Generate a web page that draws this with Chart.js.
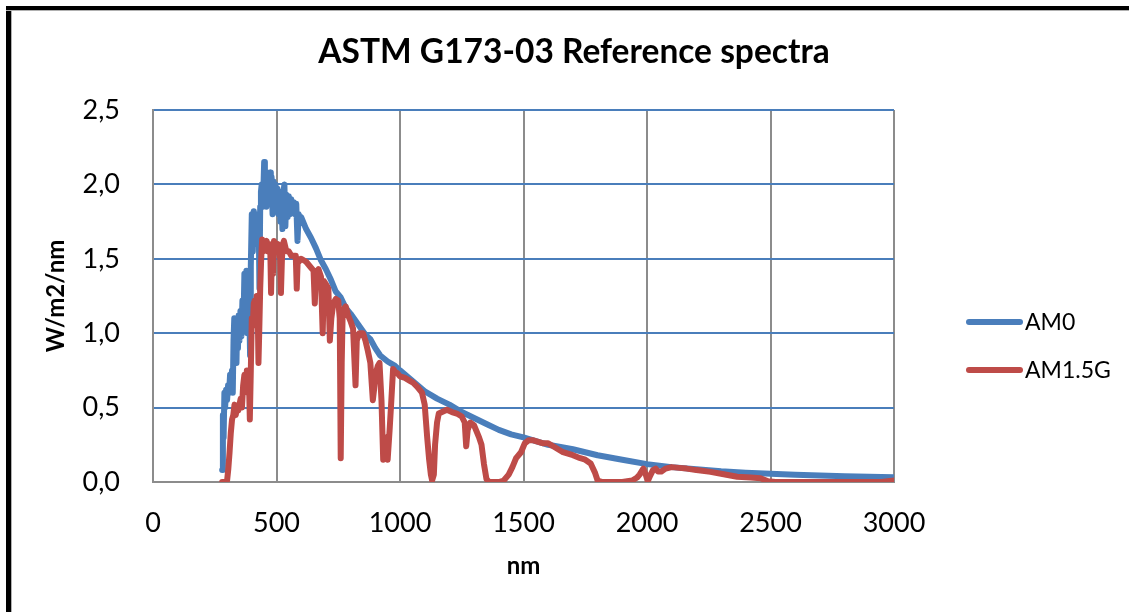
<!DOCTYPE html>
<html>
<head>
<meta charset="utf-8">
<script src="https://cdn.jsdelivr.net/npm/chart.js@4"></script>
<style>
  html, body { margin: 0; padding: 0; background: #fff; }
  #wrap { position: absolute; left: 0; top: 0; width: 1129px; height: 612px; overflow: hidden; background: #fff; }
  #frameL { position: absolute; left: 6px; top: 6px; width: 5px; height: 606px; background: #000; border-right: 1px solid #b0b0b0; }
  #frameT { position: absolute; left: 6px; top: 6px; width: 1123px; height: 4px; background: #000; border-bottom: 1px solid #b0b0b0; }
  canvas { position: absolute; left: 0; top: 0; }
</style>
</head>
<body>
<div id="wrap">
  <canvas id="c" width="1129" height="612"></canvas>
  <div id="frameL"></div>
  <div id="frameT"></div>
</div>
<script>
// ---- Data ----
const chartTitle = 'ASTM G173-03 Reference spectra';
const xAxisTitle = 'nm';
const yAxisTitle = 'W/m2/nm';
const seriesNames = ['AM0', 'AM1.5G'];
const xTickValues = [0, 500, 1000, 1500, 2000, 2500, 3000];
const xTickLabels = ['0', '500', '1000', '1500', '2000', '2500', '3000'];
const yTickValues = [0, 0.5, 1.0, 1.5, 2.0, 2.5];
const yTickLabels = ['0,0', '0,5', '1,0', '1,5', '2,0', '2,5'];

const am0Nm = [
  280, 283, 286, 289, 292, 296, 300, 304, 308, 312, 316, 320, 323, 326, 329, 332, 335, 338, 341, 344,
  347, 350, 354, 358, 362, 366, 370, 374, 378, 382, 386, 390, 393, 396, 400, 404, 408, 412, 416, 420,
  424, 428, 431, 434, 437, 440, 445, 450, 453, 456, 459, 462, 465, 468, 471, 474, 477, 480, 484, 488,
  492, 496, 500, 504, 508, 512, 516, 520, 524, 528, 532, 536, 540, 545, 550, 555, 560, 565, 570, 575,
  580, 585, 590, 596, 600, 620, 640, 660, 680, 700, 720, 740, 760, 780, 800, 830, 860, 880, 900, 920,
  950, 980, 1000, 1050, 1100, 1150, 1200, 1250, 1300, 1350, 1400, 1450, 1500, 1600, 1700, 1800, 1900, 2000, 2100, 2200,
  2300, 2400, 2500, 2600, 2700, 2800, 2900, 3000
];
const am0Val = [
  0.08, 0.45, 0.30, 0.60, 0.50, 0.62, 0.55, 0.65, 0.60, 0.72, 0.68, 0.75, 0.60, 0.95, 1.10, 0.85, 1.05, 0.80, 1.10, 0.90,
  1.12, 0.95, 1.15, 0.98, 1.22, 1.05, 1.40, 1.10, 1.42, 1.00, 1.35, 1.15, 0.85, 1.45, 1.80, 1.55, 1.82, 1.70, 1.80, 1.60,
  1.80, 1.75, 1.30, 1.85, 1.95, 2.00, 1.85, 2.15, 1.90, 2.05, 1.85, 2.08, 1.95, 2.06, 1.92, 2.08, 1.98, 2.05, 1.80, 2.02,
  1.90, 2.00, 1.85, 1.97, 1.80, 1.95, 1.75, 1.93, 1.70, 1.95, 2.00, 1.72, 1.93, 1.78, 1.92, 1.80, 1.90, 1.82, 1.88, 1.80,
  1.87, 1.62, 1.80, 1.76, 1.78, 1.70, 1.64, 1.57, 1.49, 1.43, 1.36, 1.28, 1.24, 1.17, 1.13, 1.06, 0.99, 0.96, 0.90, 0.85,
  0.81, 0.78, 0.75, 0.68, 0.61, 0.56, 0.52, 0.47, 0.43, 0.39, 0.35, 0.32, 0.30, 0.25, 0.22, 0.18, 0.15, 0.12, 0.10, 0.085,
  0.072, 0.063, 0.055, 0.049, 0.043, 0.039, 0.035, 0.032
];

const am15Nm = [
  280, 295, 300, 305, 310, 315, 320, 325, 330, 335, 340, 345, 350, 355, 360, 365, 370, 375, 380, 384,
  388, 392, 396, 400, 404, 408, 412, 416, 420, 424, 427, 430, 434, 438, 442, 446, 450, 455, 460, 465,
  470, 475, 478, 482, 486, 490, 495, 500, 505, 510, 515, 518, 522, 526, 530, 540, 550, 560, 570, 578,
  582, 586, 590, 600, 610, 620, 630, 640, 650, 655, 660, 670, 680, 687, 692, 700, 710, 716, 722, 730,
  740, 750, 756, 760, 764, 768, 780, 790, 800, 810, 816, 820, 825, 835, 850, 860, 870, 880, 890, 895,
  900, 910, 917, 925, 932, 940, 950, 958, 965, 972, 980, 990, 1000, 1020, 1040, 1055, 1070, 1089, 1100, 1110,
  1118, 1125, 1130, 1137, 1142, 1150, 1157, 1170, 1190, 1210, 1230, 1240, 1250, 1262, 1268, 1274, 1285, 1300, 1310, 1320,
  1330, 1340, 1350, 1360, 1400, 1420, 1440, 1455, 1470, 1490, 1505, 1520, 1540, 1560, 1580, 1600, 1620, 1640, 1660, 1680,
  1700, 1730, 1750, 1772, 1790, 1800, 1820, 1900, 1940, 1960, 1970, 1985, 1995, 2003, 2012, 2024, 2035, 2045, 2058, 2075,
  2100, 2130, 2160, 2200, 2257, 2300, 2365, 2420, 2460, 2490, 2520, 2600, 2800, 2950, 3000
];
const am15Val = [
  0.00, 0.00, 0.01, 0.09, 0.20, 0.33, 0.42, 0.45, 0.52, 0.45, 0.50, 0.48, 0.52, 0.56, 0.50, 0.65, 0.72, 0.62, 0.75, 0.60,
  0.72, 0.42, 0.75, 1.10, 1.05, 1.20, 1.22, 1.15, 1.25, 1.15, 0.80, 1.00, 1.30, 1.50, 1.63, 1.55, 1.62, 1.60, 1.62, 1.55,
  1.60, 1.55, 1.27, 1.58, 1.40, 1.62, 1.60, 1.55, 1.60, 1.57, 1.50, 1.27, 1.50, 1.60, 1.62, 1.55, 1.55, 1.52, 1.52, 1.52,
  1.30, 1.50, 1.48, 1.50, 1.49, 1.48, 1.46, 1.44, 1.42, 1.20, 1.40, 1.43, 1.38, 1.00, 1.35, 1.33, 1.30, 0.95, 1.10, 1.20,
  1.23, 1.22, 1.10, 0.16, 0.80, 1.15, 1.18, 1.12, 1.08, 1.03, 0.80, 0.65, 0.95, 1.00, 1.00, 0.95, 0.88, 0.80, 0.55, 0.62,
  0.72, 0.78, 0.80, 0.55, 0.15, 0.30, 0.15, 0.35, 0.55, 0.76, 0.74, 0.73, 0.71, 0.70, 0.68, 0.665, 0.64, 0.60, 0.52, 0.30,
  0.15, 0.05, 0.01, 0.05, 0.25, 0.40, 0.46, 0.47, 0.485, 0.47, 0.46, 0.45, 0.44, 0.40, 0.24, 0.35, 0.40, 0.38, 0.34, 0.30,
  0.25, 0.12, 0.02, 0.00, 0.00, 0.01, 0.05, 0.10, 0.16, 0.20, 0.26, 0.28, 0.28, 0.27, 0.26, 0.26, 0.24, 0.22, 0.20, 0.19,
  0.18, 0.16, 0.15, 0.125, 0.06, 0.01, 0.00, 0.00, 0.01, 0.03, 0.05, 0.09, 0.05, 0.005, 0.04, 0.08, 0.09, 0.07, 0.07, 0.09,
  0.10, 0.095, 0.09, 0.08, 0.068, 0.055, 0.035, 0.03, 0.025, 0.005, 0.00, 0.00, 0.00, 0.00, 0.01
];

// ---- Styles ----
const BLUE = '#4A7EBB';
const RED = '#BE4B48';
const GRID_BLUE = '#4A7EBB';
const GRID_GRAY = '#8C8C8C';
const FONT = 'Lato, "Open Sans", sans-serif';

function toPoints(xs, ys) { return xs.map((x, i) => ({ x: x, y: ys[i] })); }

const decorPlugin = {
  id: 'decor',
  afterDraw(chart) {
    const ctx = chart.ctx;
    ctx.save();
    // title
    ctx.fillStyle = '#000';
    ctx.font = 'bold 33.5px ' + FONT;
    ctx.textAlign = 'center';
    ctx.textBaseline = 'middle';
    ctx.fillText(chartTitle, 574, 52);
    // legend
    const items = [
      { name: seriesNames[0], color: BLUE, y: 322 },
      { name: seriesNames[1], color: RED, y: 370 }
    ];
    ctx.font = '23px ' + FONT;
    ctx.textAlign = 'left';
    items.forEach(it => {
      ctx.strokeStyle = it.color;
      ctx.lineWidth = 6;
      ctx.lineCap = 'round';
      ctx.beginPath();
      ctx.moveTo(969, it.y);
      ctx.lineTo(1020, it.y);
      ctx.stroke();
      ctx.fillStyle = '#000';
      ctx.fillText(it.name, 1025, it.y + 1);
    });
    ctx.restore();
  }
};

new Chart(document.getElementById('c'), {
  type: 'line',
  data: {
    datasets: [
      {
        label: seriesNames[0],
        data: toPoints(am0Nm, am0Val),
        borderColor: BLUE,
        backgroundColor: BLUE,
        borderWidth: 6,
        pointRadius: 0,
        tension: 0,
        borderJoinStyle: 'round',
        borderCapStyle: 'round',
        order: 1
      },
      {
        label: seriesNames[1],
        data: toPoints(am15Nm, am15Val),
        borderColor: RED,
        backgroundColor: RED,
        borderWidth: 6,
        pointRadius: 0,
        tension: 0,
        borderJoinStyle: 'round',
        borderCapStyle: 'round',
        order: 0
      }
    ]
  },
  options: {
    responsive: false,
    animation: false,
    devicePixelRatio: 1,
    layout: { padding: { top: 110, left: 0, right: 235, bottom: 0 } },
    plugins: {
      legend: { display: false },
      title: { display: false },
      tooltip: { enabled: false }
    },
    scales: {
      x: {
        type: 'linear',
        min: 0,
        max: 3000,
        afterFit(s) { s.height = 130; },
        afterBuildTicks(s) { s.ticks = xTickValues.map(v => ({ value: v })); },
        ticks: {
          padding: 25,
          color: '#000',
          font: { family: FONT, size: 27 },
          maxRotation: 0,
          autoSkip: false,
          callback: (v) => { const i = xTickValues.indexOf(v); return i >= 0 ? xTickLabels[i] : ''; }
        },
        grid: { color: GRID_GRAY, lineWidth: 2, drawTicks: false },
        border: { color: GRID_GRAY, width: 2 },
        title: {
          display: true,
          text: xAxisTitle,
          color: '#000',
          font: { family: FONT, size: 24, weight: 'bold' },
          padding: { top: 0, bottom: 31 }
        }
      },
      y: {
        type: 'linear',
        min: 0,
        max: 2.5,
        afterFit(s) { s.width = 153; },
        afterBuildTicks(s) { s.ticks = yTickValues.map(v => ({ value: v })); },
        ticks: {
          padding: 33,
          color: '#000',
          font: { family: FONT, size: 27 },
          autoSkip: false,
          callback: (v) => { const i = yTickValues.indexOf(v); return i >= 0 ? yTickLabels[i] : ''; }
        },
        grid: {
          color: (c) => (c.tick && c.tick.value === 0 ? GRID_GRAY : GRID_BLUE),
          lineWidth: 2,
          drawTicks: false
        },
        border: { color: GRID_GRAY, width: 2 },
        title: {
          display: true,
          text: yAxisTitle,
          color: '#000',
          font: { family: FONT, size: 24, weight: 'bold' },
          padding: { top: 42, bottom: 0 }
        }
      }
    }
  },
  plugins: [decorPlugin]
});
</script>
</body>
</html>
